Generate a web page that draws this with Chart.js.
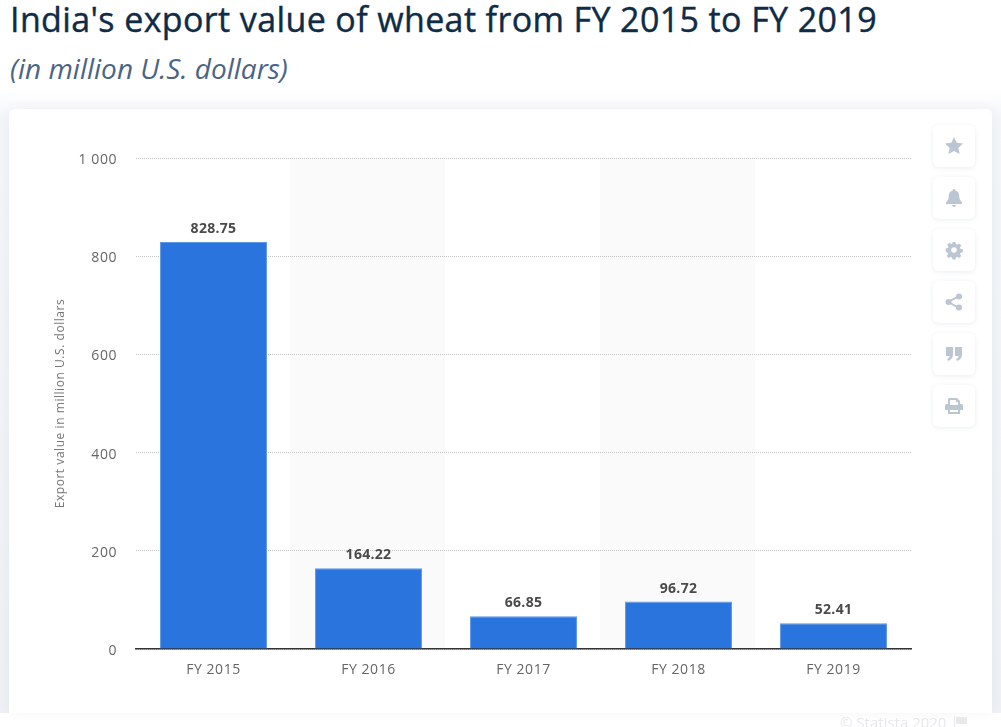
<!DOCTYPE html>
<html>
<head>
<meta charset="utf-8">
<title>India's export value of wheat</title>
<script src="https://cdn.jsdelivr.net/npm/chart.js@4"></script>
<style>
    html, body { margin: 0; padding: 0; background: #fff; }
    body { width: 1001px; height: 727px; position: relative; overflow: hidden; font-family: "Open Sans", sans-serif; }
    h1 { position: absolute; left: 10px; top: -3px; margin: 0; font-size: 34px; letter-spacing: 0.38px; line-height: 44px; font-weight: 400; color: #0f2b46; white-space: nowrap; -webkit-text-stroke: 0.4px #0f2b46; }
    h2 { position: absolute; left: 10px; top: 49px; margin: 0; font-size: 28px; line-height: 38px; font-weight: 400; font-style: italic; color: #4a6485; white-space: nowrap; }
    .back { position: absolute; left: 0; top: 90px; width: 1001px; height: 623px; background: linear-gradient(#fff, #f3f5f9 30px, #eef0f5); }
    .card { position: absolute; left: 9px; top: 109px; width: 983px; height: 604px; background: #fff; border-radius: 6px 6px 0 0; box-shadow: 0 0 12px rgba(60, 80, 120, .06); }
    .chart { position: absolute; left: 9px; top: 109px; width: 916px; height: 604px; }
    .btn { position: absolute; left: 933px; width: 42px; height: 42px; background: #fff; border-radius: 6px; box-shadow: 0 1px 5px rgba(60, 80, 120, .1); }
    .btn svg { position: absolute; left: 11px; top: 11px; width: 20px; height: 20px; fill: #bcc5d2; }
    .credit { position: absolute; left: 840px; top: 712px; font-size: 15px; line-height: 20px; color: #e6e8ec; white-space: nowrap; }
    .flag { position: absolute; left: 953px; top: 716px; width: 15px; height: 11px; fill: #e6e8ec; }
</style>
</head>
<body>
<h1>India's export value of wheat from FY 2015 to FY 2019</h1>
<h2>(in million U.S. dollars)</h2>
<div class="back"></div>
<div class="card"></div>
<div class="chart"><canvas id="wheatChart" width="916" height="604"></canvas></div>
<div class="btn" style="top:125px"><svg viewBox="0 0 20 20"><path d="M10 1l2.700 5.800 6.300.8-4.700 4.300 1.300 6.200L10 15l-5.600 3.100 1.300-6.200L1 7.600l6.300-.8z"/></svg></div>
<div class="btn" style="top:177px"><svg viewBox="0 0 20 20"><path d="M10 1a1.300 1.300 0 0 1 1.300 1.400c2.600.6 3.900 2.700 3.900 5.200 0 3.500 1 5.400 2.800 6.700v1.700H2v-1.700c1.800-1.300 2.800-3.200 2.800-6.700 0-2.500 1.300-4.600 3.900-5.200A1.300 1.300 0 0 1 10 1zM8 17h4a2 2 0 0 1-4 0z"/></svg></div>
<div class="btn" style="top:229px"><svg viewBox="0 0 20 20"><path fill-rule="evenodd" d="M8.500 2h3l.4 2.200 1.400.6 1.900-1.300 2.100 2.100-1.300 1.900.6 1.400 2.200.4v3l-2.200.4-.6 1.400 1.300 1.900-2.100 2.100-1.900-1.300-1.400.6-.4 2.200h-3l-.4-2.200-1.400-.6-1.900 1.300-2.100-2.100 1.300-1.900-.6-1.400L1.700 11.500v-3l2.200-.4.6-1.400-1.300-1.900 2.100-2.100 1.900 1.300 1.400-.6zM10 7.200a2.800 2.800 0 1 0 0 5.600 2.800 2.800 0 0 0 0-5.600z"/></svg></div>
<div class="btn" style="top:281px"><svg viewBox="0 0 20 20"><circle cx="15" cy="4.500" r="3"/><circle cx="15" cy="15.500" r="3"/><circle cx="4.500" cy="10" r="3"/><path d="M4 9l10-5.500 1 1.800L6 10l9 4.700-1 1.800L4 11z"/></svg></div>
<div class="btn" style="top:333px"><svg viewBox="0 0 20 20"><path d="M2 3h7v7.500c0 3.300-1.800 5.500-5 6.500l-.8-2c1.500-.6 2.300-1.500 2.400-3H2zM11 3h7v7.500c0 3.300-1.800 5.500-5 6.500l-.8-2c1.500-.6 2.300-1.500 2.400-3H11z"/></svg></div>
<div class="btn" style="top:385px"><svg viewBox="0 0 20 20"><path fill-rule="evenodd" d="M5 2h8l3 3v3h1.500A1.500 1.500 0 0 1 19 9.500V14h-3v4H4v-4H1V9.500A1.500 1.500 0 0 1 2.500 8H4V3zM6 4v5h8V6h-2V4zM6 14v2h8v-2z"/></svg></div>
<div class="credit">© Statista 2020</div>
<svg class="flag" viewBox="0 0 15 11"><path d="M1 0h1v11H1zM3 1c3-1 5 1 11 0v7c-6 1-8-1-11 0z"/></svg>

<script>
// Data
const categories = ['FY 2015', 'FY 2016', 'FY 2017', 'FY 2018', 'FY 2019'];
const exportValues = [828.75, 164.22, 66.85, 96.72, 52.41];
const yTicks = [0, 200, 400, 600, 800, 1000];
const yTickLabels = ['0', '200', '400', '600', '800', '1 000'];
const yTitle = 'Export value in million U.S. dollars';

// Grey band behind every second category, wider letter spacing for all chart text
const bandPlugin = {
    id: 'bands',
    beforeDraw(chart) {
        const { ctx, chartArea, scales } = chart;
        const step = scales.x.getPixelForTick(1) - scales.x.getPixelForTick(0);
        ctx.letterSpacing = '0.55px';
        ctx.save();
        ctx.fillStyle = '#fafafa';
        categories.forEach((cat, i) => {
            if (i % 2 === 0) return;
            const x = scales.x.getPixelForTick(i) - step / 2 - 1;
            ctx.fillRect(x, chartArea.top, step, chartArea.bottom - chartArea.top);
        });
        ctx.restore();
    }
};

// The y labels sit a little below their grid lines
const tickShiftPlugin = {
    id: 'tickShift',
    afterLayout(chart) {
        const y = chart.scales.y;
        if (y.shifted) return;
        const drawLabels = y.drawLabels;
        y.drawLabels = function (area) {
            chart.ctx.save();
            chart.ctx.translate(0, 2);
            drawLabels.call(this, area);
            chart.ctx.restore();
        };
        y.shifted = true;
    }
};

// Value above each bar
const valueLabelPlugin = {
    id: 'valueLabels',
    afterDatasetsDraw(chart) {
        const { ctx } = chart;
        ctx.save();
        ctx.font = '700 14px "Open Sans"';
        ctx.letterSpacing = '0.3px';
        ctx.fillStyle = '#4a4a4a';
        ctx.textAlign = 'center';
        ctx.textBaseline = 'alphabetic';
        chart.getDatasetMeta(0).data.forEach((bar, i) => {
            ctx.fillText(exportValues[i].toFixed(2), bar.x, bar.y - 9);
        });
        ctx.restore();
    }
};

new Chart(document.getElementById('wheatChart'), {
    type: 'bar',
    data: {
        labels: categories,
        datasets: [{
            data: exportValues,
            backgroundColor: '#2975dd',
            borderColor: '#5c97e8',
            borderWidth: { top: 1, left: 1, right: 1, bottom: 0 },
            borderSkipped: false,
            categoryPercentage: 1,
            barPercentage: 0.69
        }]
    },
    plugins: [bandPlugin, tickShiftPlugin, valueLabelPlugin],
    options: {
        responsive: false,
        animation: false,
        events: [],
        layout: { padding: { left: 44, right: 14, top: 49, bottom: 0 } },
        plugins: { legend: { display: false }, tooltip: { enabled: false } },
        scales: {
            x: {
                grid: { display: false },
                border: { display: true, color: '#333', width: 1.5 },
                ticks: {
                    color: '#666',
                    font: { family: '"Open Sans"', size: 14 },
                    padding: 5,
                    maxRotation: 0
                },
                afterFit(scale) { scale.height = 64; }
            },
            y: {
                min: 0,
                max: 1000,
                afterBuildTicks(scale) { scale.ticks = yTicks.map(value => ({ value })); },
                grid: { color: '#c4c4c4', lineWidth: 1, drawTicks: false },
                border: { display: false, dash: [1, 1] },
                ticks: {
                    color: '#666',
                    font: { family: '"Open Sans"', size: 14 },
                    padding: 19,
                    callback: (value) => yTickLabels[yTicks.indexOf(value)]
                },
                title: {
                    display: true,
                    text: yTitle,
                    color: '#777',
                    font: { family: '"Open Sans"', size: 12 },
                    padding: 0
                },
                afterFit(scale) { scale.width = 83; }
            }
        }
    }
});
</script>
</body>
</html>
